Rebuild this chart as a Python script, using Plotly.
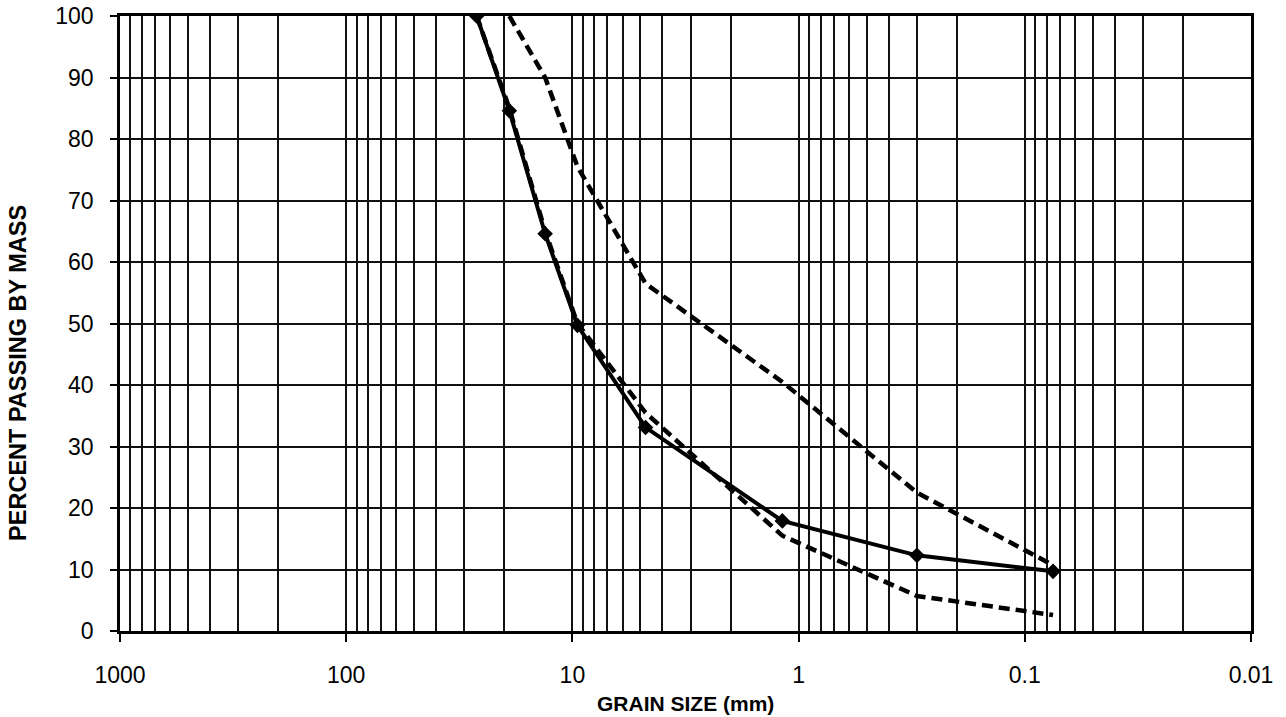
import plotly.graph_objects as go

# Sieve sizes (mm)
sizes = [26.5, 19, 13.2, 9.5, 4.75, 1.18, 0.3, 0.075]
# Measured grading (solid)
passing = [100, 84.6, 64.6, 49.7, 33.1, 17.9, 12.3, 9.7]
# Envelope limits (dashed)
upper_sizes = [19, 13.2, 9.5, 4.75, 1.18, 0.3, 0.075]
upper = [100, 90, 75.5, 56.5, 40.5, 22.5, 10.7]
lower_sizes = [26.5, 19, 13.2, 9.5, 4.75, 1.18, 0.3, 0.075]
lower = [100, 85, 65, 50, 35.5, 15.5, 5.7, 2.6]

decades = [1000, 100, 10, 1, 0.1, 0.01]
decade_labels = ["1000", "100", "10", "1", "0.1", "0.01"]
minor_vals = [m * d for d in [100, 10, 1, 0.1, 0.01] for m in range(2, 10)]
y_ticks = list(range(0, 101, 10))

FONT = "Liberation Sans, Arial, sans-serif"

fig = go.Figure()
fig.add_trace(go.Scatter(x=lower_sizes, y=lower, mode="lines",
                         line=dict(color="black", width=4.5, dash="11px,6px"),
                         showlegend=False))
fig.add_trace(go.Scatter(x=upper_sizes, y=upper, mode="lines",
                         line=dict(color="black", width=4.5, dash="11px,6px"),
                         showlegend=False))
fig.add_trace(go.Scatter(x=sizes, y=passing, mode="lines+markers",
                         line=dict(color="black", width=4),
                         marker=dict(symbol="diamond", size=12, color="black"),
                         showlegend=False))

fig.update_layout(
    width=1286, height=717,
    margin=dict(l=120, r=35, t=16, b=86),
    paper_bgcolor="white", plot_bgcolor="white",
    font=dict(family=FONT, color="black"),
    xaxis=dict(
        type="log", range=[3, -2], automargin=False,
        tickvals=decades, ticktext=decade_labels,
        ticks="outside", ticklen=8, tickwidth=2, tickcolor="black",
        tickfont=dict(size=23, family=FONT, color="black"),
        ticklabelstandoff=14,
        showgrid=True, gridcolor="#111111", gridwidth=1.8,
        minor=dict(tickvals=minor_vals, showgrid=True, gridcolor="#111111",
                   gridwidth=1.8, ticks=""),
        showline=True, linecolor="black", linewidth=2.5, mirror=True,
        zeroline=False,
    ),
    yaxis=dict(
        range=[0, 100], automargin=False,
        tickvals=y_ticks,
        ticks="outside", ticklen=7, tickwidth=2, tickcolor="black",
        tickfont=dict(size=23, family=FONT, color="black"),
        ticklabelstandoff=12,
        showgrid=True, gridcolor="#111111", gridwidth=1.8,
        showline=True, linecolor="black", linewidth=2.5, mirror=True,
        zeroline=False,
    ),
)

fig.add_annotation(text="<b>GRAIN SIZE (mm)</b>", xref="paper", yref="paper",
                   x=0.5, y=-0.1175, xanchor="center", yanchor="middle",
                   showarrow=False, font=dict(size=21, family=FONT, color="black"))
fig.add_annotation(text="<b>PERCENT PASSING BY MASS</b>", xref="paper", yref="paper",
                   x=-0.0903, y=0.4195, xanchor="center", yanchor="middle", textangle=-90,
                   showarrow=False, font=dict(size=23.5, family=FONT, color="black"))

fig.write_html("out.html")
